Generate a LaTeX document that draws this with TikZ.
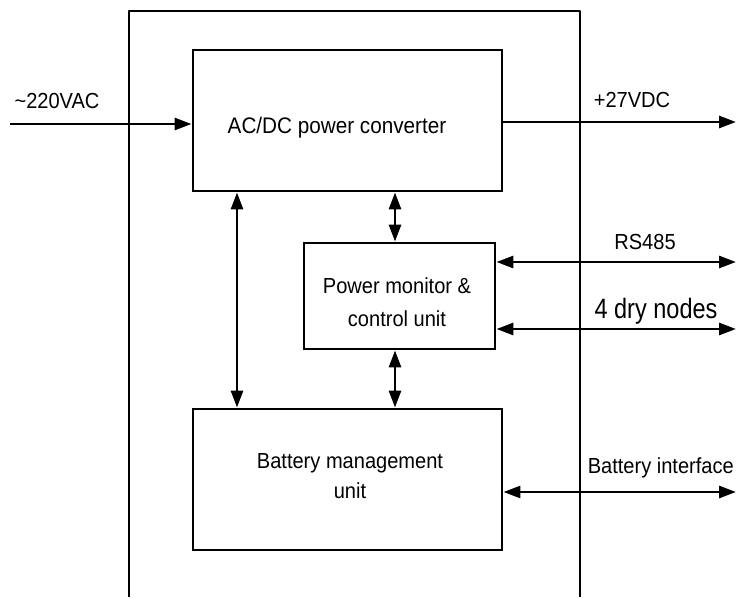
\documentclass[tikz,border=0pt]{standalone}
\usepackage{fontspec}
\setmainfont[FakeStretch=0.92]{Liberation Sans}
\newfontfamily\narrowfont[FakeStretch=0.84]{Liberation Sans}
\usetikzlibrary{arrows.meta}
\begin{document}
\begin{tikzpicture}[x=1pt,y=-1pt,
  box/.style={draw,line width=2.9pt,inner sep=0pt},
  conn/.style={line width=2.9pt,-{Triangle[length=17pt,width=12pt]}},
  biconn/.style={line width=2.9pt,{Triangle[length=17pt,width=12pt]}-{Triangle[length=17pt,width=12pt]}},
  txt/.style={font=\fontsize{21.8}{33}\selectfont,inner sep=0pt},
  lbl/.style={font=\fontsize{21.8}{24}\selectfont,inner sep=0pt,anchor=base}]
\useasboundingbox (0,0) rectangle (736,597);
\fill[white] (0,0) rectangle (736,597);
% outer frame (open at the bottom)
\draw[line width=2.9pt,line join=round] (129,597) -- (129,11) -- (580,11) -- (580,597);
% boxes
\node[box,minimum width=309pt,minimum height=141pt] (acdc) at (347.5,120.5) {};
\node[box,minimum width=191pt,minimum height=106pt] (mon) at (399.5,296) {};
\node[box,minimum width=309pt,minimum height=141pt] (bat) at (347.5,479.5) {};
% box texts
\node[txt,anchor=base,font=\fontsize{22.5}{33}\selectfont] (acdct) at (337,133) {AC/DC power converter};
\node[txt,align=center] (mont) at (397,302) {Power monitor \&\\control unit};
\node[txt,align=center,font=\fontsize{21.8}{30}\selectfont] (batt) at (350,476) {Battery management\\unit};
% left input
\coordinate (in) at (10,124);
\draw[conn] (in) -- (in -| acdc.west);
\node[lbl] (l220) at (57,108) {\textasciitilde220VAC};
% outputs
\coordinate (o27) at (736,122);
\draw[conn] (o27 -| acdc.east) -- (o27);
\node[lbl] (l27) at (632,107) {+27VDC};
\coordinate (ors) at (736,262);
\draw[biconn] (ors -| mon.east) -- (ors);
\node[lbl] (lrs) at (645,249) {RS485};
\coordinate (odry) at (736,329);
\draw[biconn] (odry -| mon.east) -- (odry);
\node[lbl,font=\narrowfont\fontsize{28}{30}\selectfont] (ldry) at (656,318) {4 dry nodes};
\coordinate (obat) at (736,492);
\draw[biconn] (obat -| bat.east) -- (obat);
\node[lbl,anchor=base east] (lbat) at (734,473) {Battery interface};
% vertical links
\coordinate (vl) at (237,0);
\draw[biconn] (vl |- acdc.south) -- (vl |- bat.north);
\coordinate (vm) at (395,0);
\draw[biconn] (vm |- acdc.south) -- (vm |- mon.north);
\draw[biconn] (vm |- mon.south) -- (vm |- bat.north);
\end{tikzpicture}
\end{document}
